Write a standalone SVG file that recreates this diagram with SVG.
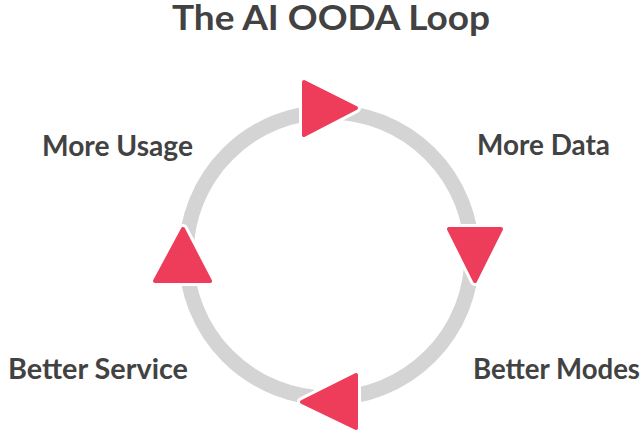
<svg xmlns="http://www.w3.org/2000/svg" width="643" height="433" viewBox="0 0 643 433">
<style>
  .lbl{font-family:Lato,"Open Sans","DejaVu Sans",sans-serif;font-weight:700;font-size:28px;fill:#424242}
  .title{font-family:Lato,"Open Sans","DejaVu Sans",sans-serif;font-weight:700;font-size:35px;fill:#424242}
  .ring{fill:none;stroke:#D4D4D4;stroke-width:15}
  .halo{fill:#fff;stroke:#fff;stroke-width:10;stroke-linejoin:round}
  .arr{fill:#EE3D5A;stroke:#EE3D5A;stroke-width:4;stroke-linejoin:round}
</style>
<rect width="643" height="433" fill="#fff"/>
<g id="title"><text class="title" x="172" y="30" textLength="318" lengthAdjust="spacingAndGlyphs">The AI OODA Loop</text></g>
<g id="connectors">
  <circle class="ring" cx="329" cy="255" r="143"/>
  <g id="arrow-top"><polygon class="halo" points="304,82 356,108 304,135"/><polygon class="arr" points="304,82 356,108 304,135"/></g>
  <g id="arrow-right"><polygon class="halo" points="449,229 501,229 475,281"/><polygon class="arr" points="449,229 501,229 475,281"/></g>
  <g id="arrow-bottom"><polygon class="halo" points="356,375 356,428 302,402"/><polygon class="arr" points="356,375 356,428 302,402"/></g>
  <g id="arrow-left"><polygon class="halo" points="183,229 210,281 155,281"/><polygon class="arr" points="183,229 210,281 155,281"/></g>
</g>
<g id="node-more-usage"><text class="lbl" x="42" y="156" textLength="151" lengthAdjust="spacingAndGlyphs">More Usage</text></g>
<g id="node-more-data"><text class="lbl" x="477" y="155" textLength="133" lengthAdjust="spacingAndGlyphs">More Data</text></g>
<g id="node-better-service"><text class="lbl" x="8" y="379" textLength="180" lengthAdjust="spacingAndGlyphs">Better Service</text></g>
<g id="node-better-modes"><text class="lbl" x="473" y="379" textLength="167" lengthAdjust="spacingAndGlyphs">Better Modes</text></g>
</svg>
